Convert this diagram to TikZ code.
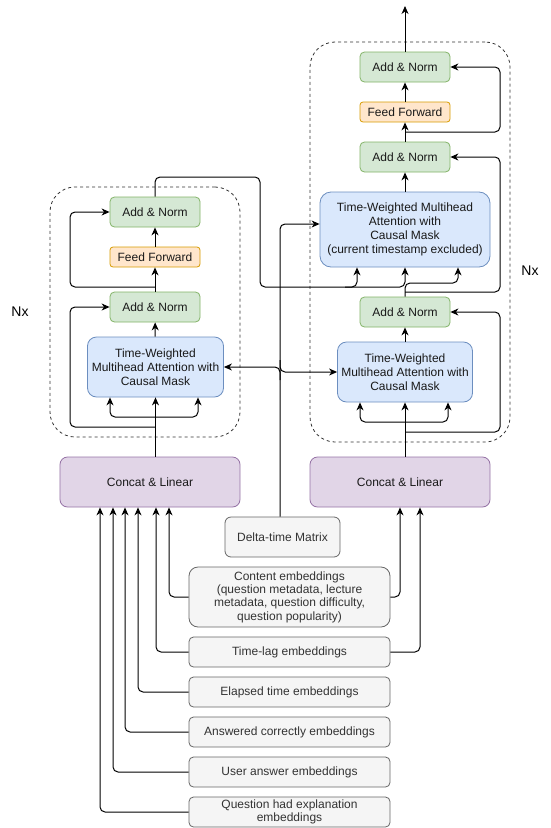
\documentclass[tikz,border=0pt]{standalone}
\usepackage{fontspec}
\setmainfont{Liberation Sans}
\usetikzlibrary{arrows.meta,calc}
\definecolor{gfill}{HTML}{D5E8D4}\definecolor{gline}{HTML}{82B366}
\definecolor{ofill}{HTML}{FFE6CC}\definecolor{oline}{HTML}{D79B00}
\definecolor{bfill}{HTML}{DAE8FC}\definecolor{bline}{HTML}{6C8EBF}
\definecolor{pfill}{HTML}{E1D5E7}\definecolor{pline}{HTML}{9673A6}
\definecolor{kfill}{HTML}{F5F5F5}\definecolor{kline}{HTML}{666666}
\definecolor{ktext}{HTML}{333333}
\begin{document}
\begin{tikzpicture}[x=1bp,y=-1bp,
  every node/.style={font=\fontsize{12bp}{14bp}\selectfont, inner sep=0pt, align=center},
  box/.style={rectangle, draw, line width=0.8bp, text=black!90},
  addnorm/.style={box, fill=gfill, draw=gline, rounded corners=4.5bp, minimum width=90bp, minimum height=30bp},
  ffbox/.style={box, fill=ofill, draw=oline, rounded corners=3bp, minimum width=90bp, minimum height=20bp},
  attbox/.style={box, fill=bfill, draw=bline, rounded corners=9bp},
  catbox/.style={box, fill=pfill, draw=pline, rounded corners=7.5bp, minimum width=180bp, minimum height=50bp},
  embbox/.style={box, fill=kfill, draw=kline, text=ktext, rounded corners=4.5bp, minimum width=201bp, minimum height=30bp},
  container/.style={rectangle, draw=black!80, line width=0.8bp, dash pattern=on 3bp off 3bp, rounded corners=25bp},
  arr/.style={draw=black, line width=1bp, rounded corners=5bp, -{Stealth[length=8bp,width=7bp,inset=2.5bp]}},
  ln/.style={draw=black, line width=1bp, rounded corners=5bp},
  nx/.style={font=\fontsize{14bp}{16bp}\selectfont}
]
\useasboundingbox (0,0) rectangle (551,828);

% containers
\node[container, minimum width=190bp, minimum height=250bp] (lbox) at (145,312) {};
\node[container, minimum width=200bp, minimum height=400bp] (rbox) at (410,242) {};
\node[nx] (lnx) at (20,312) {Nx};
\node[nx] (rnx) at (530,271) {Nx};

% encoder (left)
\node[addnorm] (lan1) at (155,212) {Add \& Norm};
\node[ffbox] (lff) at (155,257) {Feed Forward};
\node[addnorm] (lan2) at (155,307) {Add \& Norm};
\node[attbox, minimum width=136bp, minimum height=60bp] (latt) at (155.5,367) {Time-Weighted\\Multihead Attention with\\Causal Mask};
\node[catbox] (lcat) at (150,482) {Concat \& Linear};

% decoder (right)
\node[addnorm] (ran3) at (405,67) {Add \& Norm};
\node[ffbox] (rff) at (405,112) {Feed Forward};
\node[addnorm] (ran2) at (405,157) {Add \& Norm};
\node[attbox, rounded corners=11bp, minimum width=170bp, minimum height=75bp] (ratt2) at (405,229.5) {Time-Weighted Multihead\\Attention with\\Causal Mask\\(current timestamp excluded)};
\node[addnorm] (ran1) at (405,312) {Add \& Norm};
\node[attbox, minimum width=135bp, minimum height=60bp] (ratt1) at (405,372) {Time-Weighted\\Multihead Attention with\\Causal Mask};
\node[catbox] (rcat) at (400,482) {Concat \& Linear};

% inputs
\node[embbox, minimum width=115bp, minimum height=40bp, rounded corners=6bp] (delta) at (282.5,537) {Delta-time Matrix};
\node[embbox, minimum height=60bp, rounded corners=9bp, font=\fontsize{12bp}{13.4bp}\selectfont] (content) at (289.5,597) {Content embeddings\\(question metadata, lecture\\metadata, question difficulty,\\question popularity)};
\node[embbox] (timelag) at (289.5,652) {Time-lag embeddings};
\node[embbox] (elapsed) at (289.5,692) {Elapsed time embeddings};
\node[embbox] (answered) at (289.5,732) {Answered correctly embeddings};
\node[embbox] (useranswer) at (289.5,772) {User answer embeddings};
\node[embbox, font=\fontsize{12bp}{13.4bp}\selectfont] (explanation) at (289.5,812) {Question had explanation\\embeddings};

\coordinate (out) at (405,6);

% encoder connectors
\draw[arr] (lcat.north -| latt.south) -- (latt.south);
\draw[arr] (155,417) -| ([xshift=-45.5bp]latt.south);
\draw[arr] (155,417) -| ([xshift=42.5bp]latt.south);
\draw[arr] (latt) -- (lan2);
\draw[arr] (lan2) -- (lff);
\draw[arr] (lff) -- (lan1);
\draw[arr] (155,427) -- (70,427) -- (70,307) -- (lan2.west);
\draw[arr] (155,287) -- (70,287) -- (70,212) -- (lan1.west);
\draw[arr] (lan1.north) -- (155,177) -- (260,177) -- (260,287) -- (357,287) -- ([xshift=-48bp]ratt2.south);
\draw[arr] (345,287) -- (405,287) -- (ratt2.south);

% decoder connectors
\draw[arr] (ratt1.south |- rcat.north) -- (ratt1.south);
\draw[arr] (405,422) -| ([xshift=-45bp]ratt1.south);
\draw[arr] (405,422) -| ([xshift=43bp]ratt1.south);
\draw[arr] (405,432) -- (500,432) -- (500,312) -- (ran1.east);
\draw[arr] (ratt1) -- (ran1);
\draw[arr] (ran1.north) -- (405,283) -- (458,283) -- ([xshift=53bp]ratt2.south);
\draw[arr] (405,292) -- (500,292) -- (500,157) -- (ran2.east);
\draw[arr] (ratt2) -- (ran2);
\draw[arr] (ran2) -- (rff);
\draw[arr] (rff) -- (ran3);
\draw[arr] (405,132) -- (500,132) -- (500,67) -- (ran3.east);
\draw[arr] (ran3) -- (out);

% delta-time matrix
\draw[arr] (delta.north -| 280,0) -- (280,224) -- (ratt2.west |- 0,224);
\draw[arr] (280,380) -- (280,367) -- (latt.east);
\draw[arr] (280,360) -- (280,372) -- (ratt1.west);

% embeddings
\draw[arr] (content.west) -- (169,597) -- (lcat.south -| 169,0);
\draw[arr] (content.east) -- (400,597) -- (rcat.south -| 400,0);
\draw[arr] (timelag.west) -- (156,652) -- (lcat.south -| 156,0);
\draw[arr] (timelag.east) -- (420,652) -- (rcat.south -| 420,0);
\draw[arr] (elapsed.west) -- (138,692) -- (lcat.south -| 138,0);
\draw[arr] (answered.west) -- (125,732) -- (lcat.south -| 125,0);
\draw[arr] (useranswer.west) -- (113,772) -- (lcat.south -| 113,0);
\draw[arr] (explanation.west) -- (100,812) -- (lcat.south -| 100,0);
\end{tikzpicture}
\end{document}
